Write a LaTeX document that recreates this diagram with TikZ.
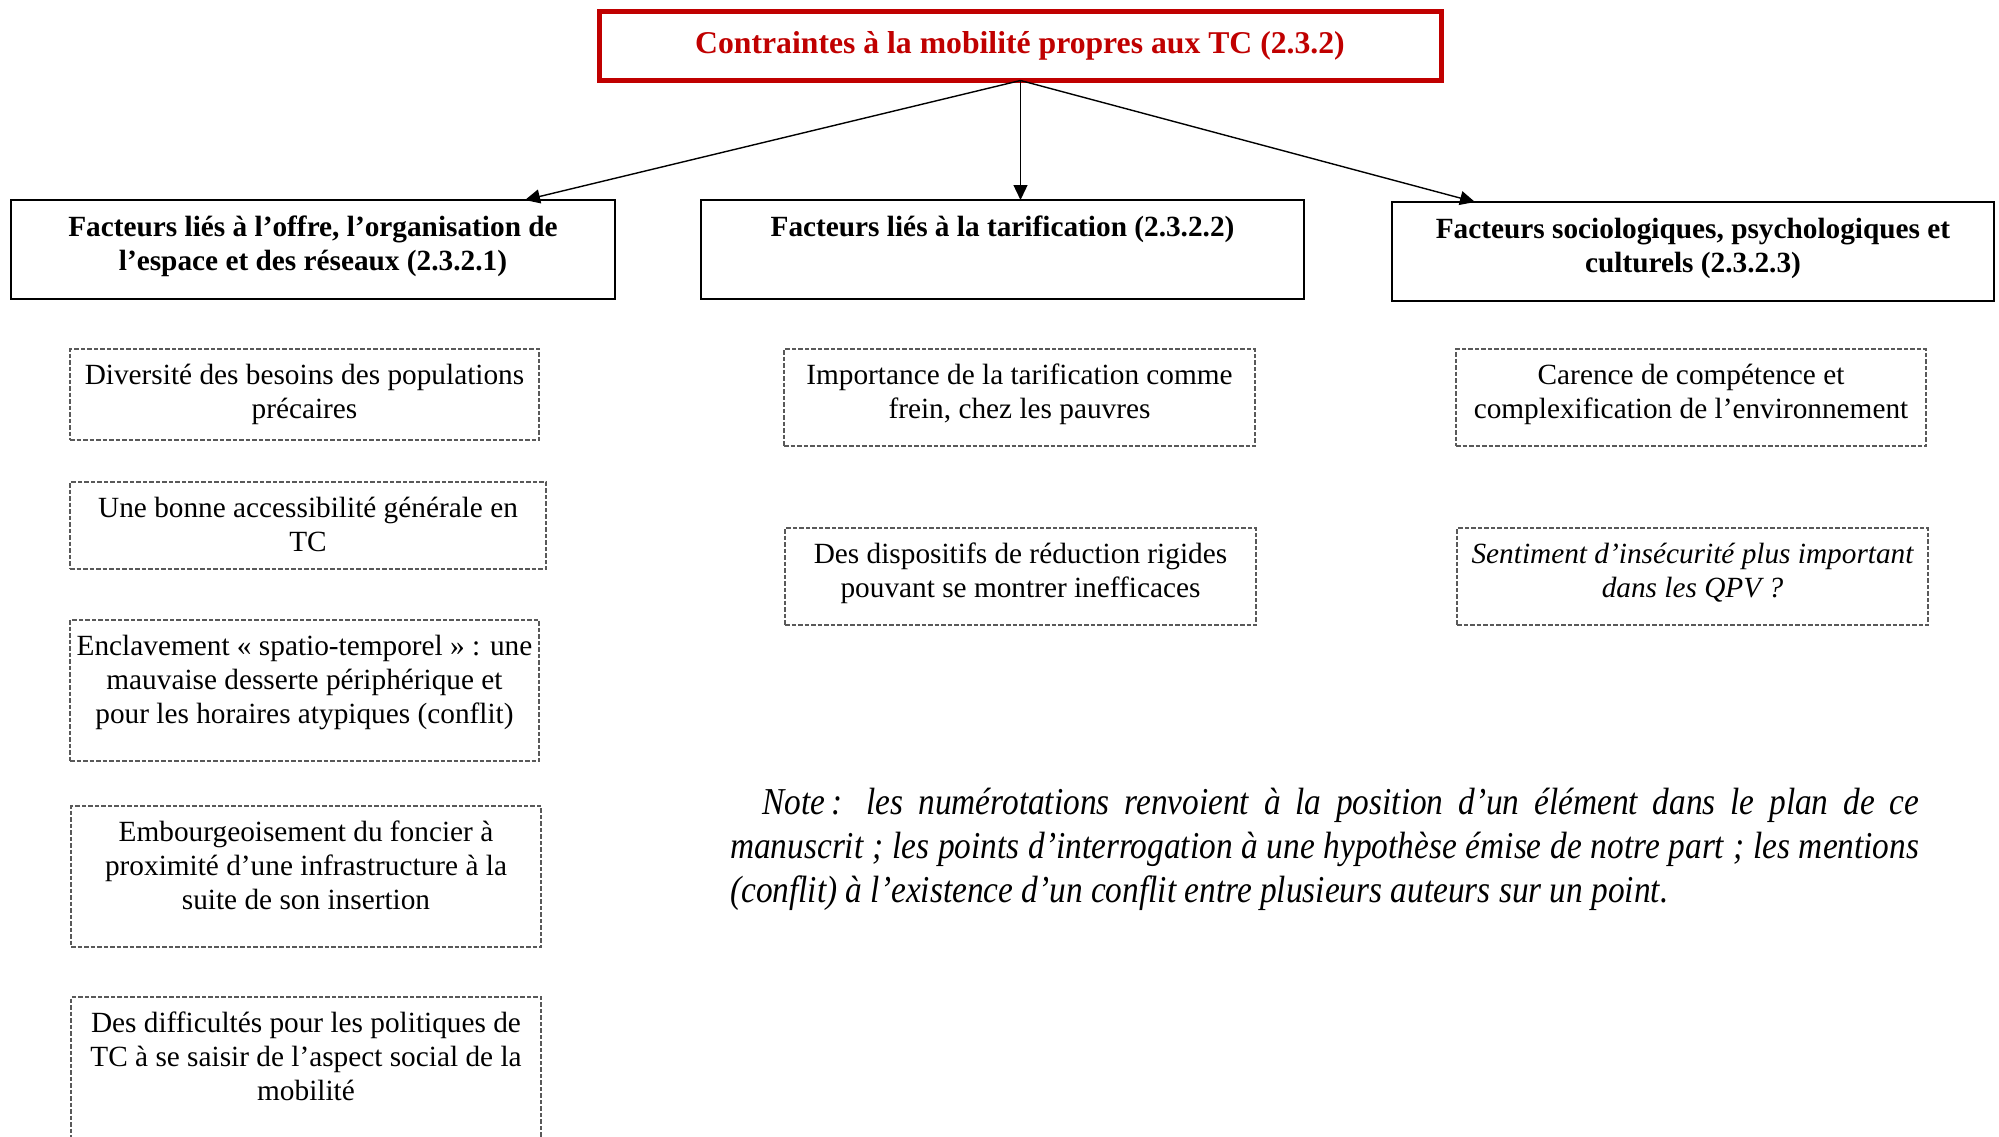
\documentclass[tikz,border=0pt]{standalone}
\usepackage{fontspec}
\setmainfont{Liberation Serif}
\newfontfamily\notefont[FakeStretch=0.877]{Liberation Serif}
\usetikzlibrary{arrows.meta}
\definecolor{tcred}{HTML}{C00000}
\begin{document}
\begin{tikzpicture}[x=1pt,y=-1pt,
  titlebox/.style={draw=tcred, line width=5pt, outer sep=0pt, inner sep=0pt},
  catbox/.style={draw=black, line width=2.2pt, outer sep=0pt, inner sep=0pt, anchor=north west},
  dbox/.style={draw=black!65, line width=1.1pt, dash pattern=on 4.5pt off 2pt, outer sep=0pt, inner sep=0pt, anchor=north west},
  boxtxt/.style={font=\fontsize{29.3}{34}\selectfont, align=center, inner sep=0pt, anchor=north},
  cattxt/.style={font=\fontsize{29.3}{34}\selectfont\bfseries, align=center, inner sep=0pt, anchor=north},
  arr/.style={line width=1.4pt, -{Triangle[length=15pt,width=14pt]}}
]
\useasboundingbox (0,0) rectangle (1999,1137);
\fill[white] (0,0) rectangle (1999,1137);

% title
\node[titlebox, minimum width=842pt, minimum height=69pt, anchor=north west] (T) at (599.5,11.5) {};
\node[inner sep=0pt, text=tcred, font=\fontsize{31.7}{36}\selectfont\bfseries] (Tt) at (1020,45.5) {Contraintes à la mobilité propres aux TC (2.3.2)};

% category boxes
\node[catbox, minimum width=604pt, minimum height=99pt] (L) at (11,200) {};
\node[catbox, minimum width=603pt, minimum height=99pt] (M) at (701,200) {};
\node[catbox, minimum width=602pt, minimum height=99pt] (R) at (1392,202) {};
\node[cattxt] (Lt) at ([yshift=-15.5pt]L.north) {Facteurs liés à l’offre, l’organisation de\\l’espace et des réseaux (2.3.2.1)};
\node[cattxt] (Mt) at ([yshift=-15.5pt]M.north) {Facteurs liés à la tarification (2.3.2.2)};
\node[cattxt] (Rt) at ([yshift=-15.5pt]R.north) {Facteurs sociologiques, psychologiques et\\culturels (2.3.2.3)};

\coordinate (Lin) at ([xshift=-90pt]L.north east);
\coordinate (Min) at (T.south |- M.north);
\coordinate (Rin) at ([xshift=83pt]R.north west);
\draw[arr] (T.south) -- (Lin);
\draw[arr] (T.south) -- (Min);
\draw[arr] (T.south) -- (Rin);

% left column
\node[dbox, minimum width=469pt, minimum height=91pt] (b1) at (70,349) {};
\node[boxtxt] (t1) at ([yshift=-15pt]b1.north) {Diversité des besoins des populations\\précaires};
\node[dbox, minimum width=476pt, minimum height=87pt] (b2) at (70,482) {};
\node[boxtxt] (t2) at ([yshift=-15pt]b2.north) {Une bonne accessibilité générale en\\TC};
\node[dbox, minimum width=469pt, minimum height=141pt] (b3) at (70,620) {};
\node[boxtxt] (t3) at ([yshift=-15pt]b3.north) {Enclavement « spatio-temporel » : une\\mauvaise desserte périphérique et\\pour les horaires atypiques (conflit)};
\node[dbox, minimum width=470pt, minimum height=141pt] (b4) at (71,806) {};
\node[boxtxt] (t4) at ([yshift=-15pt]b4.north) {Embourgeoisement du foncier à\\proximité d’une infrastructure à la\\suite de son insertion};
\node[dbox, minimum width=470pt, minimum height=170pt] (b5) at (71,997) {};
\node[boxtxt] (t5) at ([yshift=-15pt]b5.north) {Des difficultés pour les politiques de\\TC à se saisir de l’aspect social de la\\mobilité};

% middle column
\node[dbox, minimum width=471pt, minimum height=97pt] (b6) at (784,349) {};
\node[boxtxt] (t6) at ([yshift=-15pt]b6.north) {Importance de la tarification comme\\frein, chez les pauvres};
\node[dbox, minimum width=471pt, minimum height=97pt] (b7) at (785,528) {};
\node[boxtxt] (t7) at ([yshift=-15pt]b7.north) {Des dispositifs de réduction rigides\\pouvant se montrer inefficaces};

% right column
\node[dbox, minimum width=470pt, minimum height=97pt] (b8) at (1456,349) {};
\node[boxtxt] (t8) at ([yshift=-15pt]b8.north) {Carence de compétence et\\complexification de l’environnement};
\node[dbox, minimum width=471pt, minimum height=97pt] (b9) at (1457,528) {};
\node[boxtxt, font=\fontsize{29.3}{34}\selectfont\itshape] (t9) at ([yshift=-15pt]b9.north) {Sentiment d’insécurité plus important\\dans les QPV ?};

% note
\node[anchor=north west, inner sep=0pt, text width=1189pt, align=justify,
      font=\notefont\itshape\fontsize{38}{44}\selectfont] (note) at (730,788)
  {\hspace*{32pt}Note\,: les numérotations renvoient à la position d’un élément dans le plan de ce\linebreak
   manuscrit ; les points d’interrogation à une hypothèse émise de notre part ; les mentions\linebreak
   (conflit) à l’existence d’un conflit entre plusieurs auteurs sur un point.};
\end{tikzpicture}
\end{document}
